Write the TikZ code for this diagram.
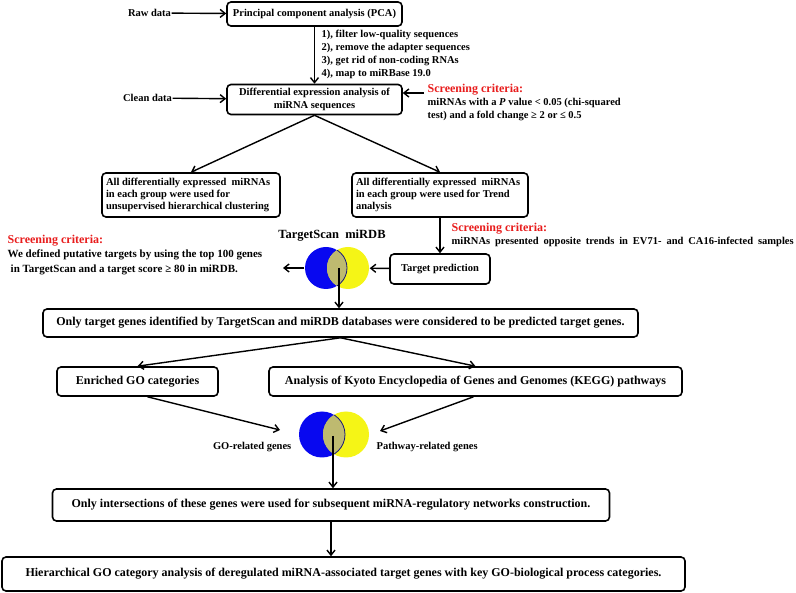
\documentclass[tikz,border=0pt]{standalone}
\usepackage{fontspec}
\setmainfont{Liberation Serif}
\usetikzlibrary{arrows.meta,positioning}
\definecolor{critred}{RGB}{232,28,28}
\definecolor{vblue}{RGB}{8,8,240}
\definecolor{vyellow}{RGB}{245,245,22}
\definecolor{vlens}{RGB}{190,186,112}
\definecolor{vnavy}{RGB}{25,25,120}

\begin{document}
\begin{tikzpicture}[x=1pt,y=-1pt,>={Straight Barb[length=5pt,width=8pt]},line width=1.4pt,
 box/.style={draw,rounded corners=4pt,line width=1.6pt,align=center,inner sep=2pt,
 font=\bfseries\fontsize{10.5}{13}\selectfont},
 bigbox/.style={box,font=\bfseries\fontsize{12}{14}\selectfont},
 lbox/.style={box,align=flush left,inner xsep=4pt,minimum height=44,font=\bfseries\fontsize{10.5}{12}\selectfont},
 txt/.style={inner sep=0pt,font=\bfseries\fontsize{10.5}{13}\selectfont},
 crit/.style={txt,align=left,anchor=north west},
 venn/.style={circle,inner sep=0pt,minimum size=#1}]
 \useasboundingbox (0,0) rectangle (796,593);
 \newcommand\crithead{\textcolor{critred}{\fontsize{12}{14}\selectfont Screening criteria:}}

 % sequencing part
 \node[txt] (raw) at (149.5,13) {Raw data};
 \node[box,minimum width=175,minimum height=24] (pca) at (314.5,14) {Principal component analysis (PCA)};
 \node[crit] (steps) at (321,29) {1), filter low-quality sequences\\2), remove the adapter sequences\\
 3), get rid of non-coding RNAs\\4), map to miRBase 19.0};
 \node[txt] (clean) at (147.5,98) {Clean data};
 \node[box,minimum width=175,minimum height=30] (diff) at (314.5,99.5) {Differential expression analysis of\\miRNA sequences};
 \node[crit] (crit1) at (427,83) {\crithead\\miRNAs with a \textit{P} value < 0.05 (chi-squared\\test) and a fold change ≥ 2 or ≤ 0.5};
 \coordinate (c1) at (424,93);
 \draw[->] (raw) -- (pca);
 \draw[->] (pca) -- (diff);
 \draw[->] (clean) -- (diff);
 \draw[->] (c1) -- (diff.east |- c1);

 % clustering and trend
 \node[lbox,text width=170] (unsup) at (191,195) {All differentially expressed\ \ miRNAs\\in each group were used for\\unsupervised hierarchical clustering};
 \node[lbox,text width=168] (trend) at (440,195) {All differentially expressed\ \ miRNAs\\in each group were used for Trend\\analysis};
 \node[box,minimum width=100,minimum height=30] (tp) at (440,269) {Target prediction};
 \node[crit] (crit2) at (451,222) {\crithead\\\makebox[342pt][s]{miRNAs presented opposite trends in EV71- and CA16-infected samples}};
 \draw[->] (diff.south) -- (unsup.north);
 \draw[->] (diff.south) -- (trend.north);
 \draw[->] (trend) -- (tp);

 % TargetScan / miRDB
 \node[venn=42,fill=vblue] (ts) at (326,268) {};
 \node[venn=42,fill=vyellow] (mr) at (348,268) {};
 \begin{scope}
 \clip (mr.center) circle (21pt);
 \draw[vnavy,line width=0.8pt,fill=vlens] (ts.center) circle (21pt);
 \end{scope}
 \coordinate (lens1) at (339,268);
 \node[txt,font=\bfseries\fontsize{12.5}{14}\selectfont] (vlab) at (332,236) {TargetScan\ \ miRDB};
 \node[crit,font=\bfseries\fontsize{11}{14.5}\selectfont] (crit3) at (7,234) {\crithead\\We defined putative targets by using the top 100 genes\\
 \hspace{3pt}in TargetScan and a target score ≥ 80 in miRDB.};
 \coordinate (c3) at (283,268);
 \node[bigbox,minimum width=595,minimum height=28] (only) at (340.5,323) {Only target genes identified by TargetScan and miRDB databases were considered to be predicted target genes.};
 \draw[->] (tp) -- (mr);
 \draw[->] (ts) -- (c3);
 \draw[->] (lens1) -- (lens1 |- only.north);

 % GO and KEGG
 \node[bigbox,minimum width=161,minimum height=29] (go) at (137.5,381.5) {Enriched GO categories};
 \node[bigbox,minimum width=413,minimum height=29] (kegg) at (475.5,381.5) {Analysis of Kyoto Encyclopedia of Genes and Genomes (KEGG) pathways};
 \node[venn=46,fill=vblue] (gor) at (322,434.5) {};
 \node[venn=46,fill=vyellow] (pwr) at (346,434.5) {};
 \begin{scope}
 \clip (pwr.center) circle (23pt);
 \draw[vnavy,line width=0.8pt,fill=vlens] (gor.center) circle (23pt);
 \end{scope}
 \coordinate (lens2) at (333,436);
 \node[txt,anchor=east] (golab) at (292,447) {GO-related genes};
 \node[txt,anchor=west] (pwlab) at (376,447) {Pathway-related genes};
 \coordinate (g2) at (280,430);
 \coordinate (k2) at (380,431);
 \draw[->] (only.south) -- (go.north);
 \draw[->] (only.south) -- (kegg.north);
 \draw[->] ([xshift=10]go.south) -- (g2);
 \draw[->] ([xshift=-2]kegg.south) -- (k2);

 % networks
 \node[bigbox,minimum width=557,minimum height=32] (inter) at (331,505) {Only intersections of these genes were used for subsequent miRNA-regulatory networks construction.};
 \node[bigbox,minimum width=683,minimum height=34] (hier) at (343.5,574) {Hierarchical GO category analysis of deregulated miRNA-associated target genes with key GO-biological process categories.};
 \draw[->] (lens2) -- (lens2 |- inter.north);
 \draw[->] (inter.south) -- (inter.south |- hier.north);
\end{tikzpicture}
\end{document}
